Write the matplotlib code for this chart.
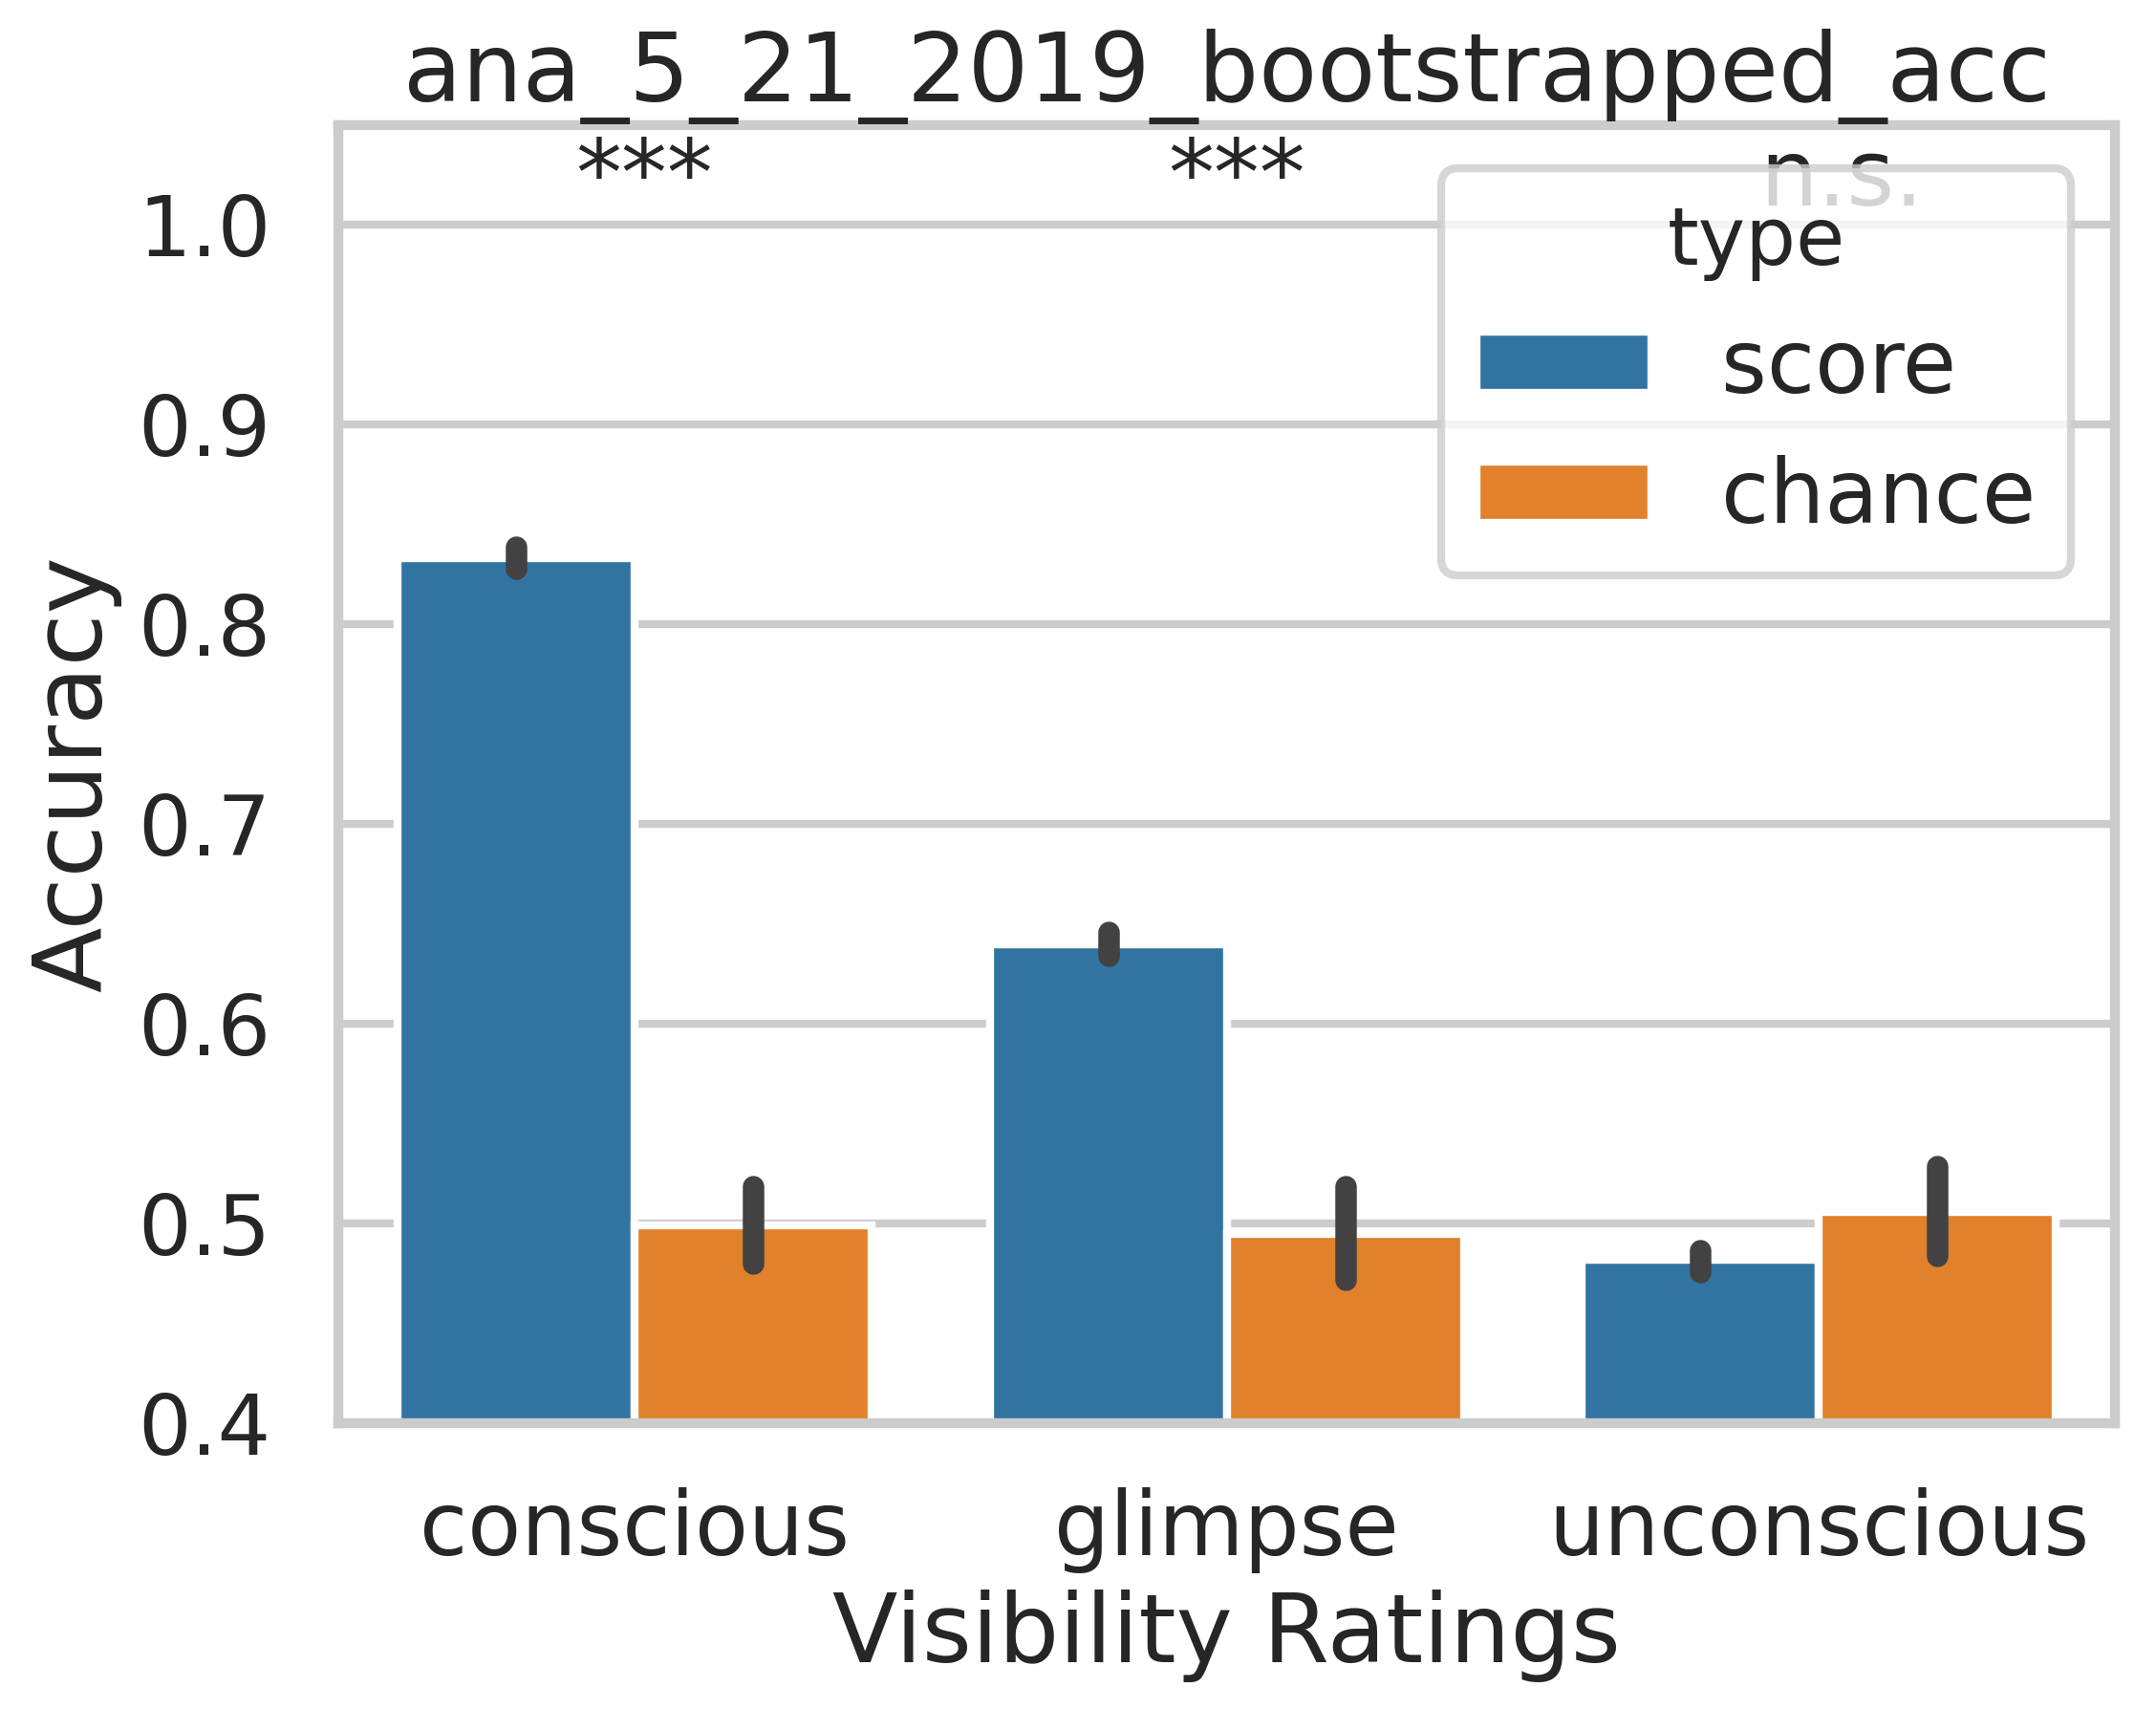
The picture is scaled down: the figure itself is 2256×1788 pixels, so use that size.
import matplotlib
matplotlib.use("Agg")
import matplotlib.pyplot as plt
import seaborn as sns

# bootstrapped accuracy per visibility rating
ratings = ["conscious", "glimpse", "unconscious"]
types = ["score", "chance"]
score_mean = [0.833, 0.640, 0.482]
score_lo = [0.828, 0.634, 0.476]
score_hi = [0.839, 0.646, 0.487]
chance_mean = [0.499, 0.495, 0.506]
chance_lo = [0.480, 0.472, 0.484]
chance_hi = [0.519, 0.519, 0.529]
signif = ["***", "***", "n.s."]

sns.set_theme(context="poster", style="whitegrid")
plt.rcParams["font.family"] = ["DejaVu Sans"]

palette = sns.color_palette("tab10", 2, desat=0.75)

fig = plt.figure(figsize=(7.52, 5.96), dpi=300)
ax = fig.add_axes([0.157, 0.167, 0.824, 0.760])

width = 0.4
series = [(score_mean, score_lo, score_hi), (chance_mean, chance_lo, chance_hi)]
for j, (mean, lo, hi) in enumerate(series):
    xs = [i - width / 2 + j * width for i in range(len(ratings))]
    ax.bar(xs, mean, width=width, color=palette[j], edgecolor="white",
           linewidth=2, label=types[j], zorder=2)
    for x, l, h in zip(xs, lo, hi):
        ax.plot([x, x], [l, h], color=".26", linewidth=5.4,
                solid_capstyle="round", zorder=3)

for i, s in enumerate(signif):
    ax.text(i - 0.1, 1.0, s, ha="left", va="bottom", fontsize=23, color=".15")

ax.set_xlim(-0.5, 2.5)
ax.set_ylim(0.4, 1.05)
ax.set_xticks(range(len(ratings)))
ax.set_xticklabels(ratings)
ax.set_yticks([0.4, 0.5, 0.6, 0.7, 0.8, 0.9, 1.0])
ax.grid(False, axis="x")
ax.set_axisbelow(True)
ax.tick_params(axis="x", length=0, pad=16)
ax.tick_params(axis="y", length=0, pad=17, labelsize=21)
ax.set_xlabel("Visibility Ratings", fontsize=24)
ax.set_ylabel("Accuracy", fontsize=24)
ax.set_title("ana_5_21_2019_bootstrapped_acc", fontsize=24, pad=6)

leg = ax.legend(title="type", loc="upper right", fontsize=22, title_fontsize=20)

fig.savefig("out.png", dpi=300)
